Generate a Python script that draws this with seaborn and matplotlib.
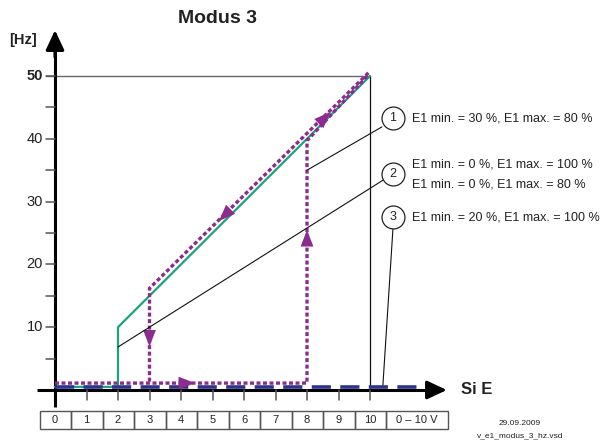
import numpy as np
import pandas as pd
import matplotlib
matplotlib.use("Agg")
import matplotlib.pyplot as plt
import seaborn as sns
from matplotlib.patches import Rectangle

# ---- data ----
green_x = [0, 2, 2, 10]
green_y = [0.5, 0.5, 10, 50]

purple_up_x = [0, 8, 8, 9.95]
purple_up_y = [1.1, 1.1, 39.7, 50.2]
purple_down_x = [9.95, 3, 3]
purple_down_y = [50.5, 16.2, 1.1]

blue_x = [0, 11.5]
blue_y = [0.5, 0.5]

# leader lines from the numbered circles to the curves
leader1_x, leader1_y = [10.38, 8.0], [41.9, 35.0]
leader2_x, leader2_y = [10.41, 2.0], [33.4, 6.85]
leader3_x, leader3_y = [10.73, 10.41], [25.8, 0.8]

y_major = [10, 20, 30, 40, 50]
y_minor = [5, 15, 25, 35, 45]
x_ticks = list(range(1, 11))
cell_labels = [str(i) for i in range(11)]
last_cell = "0 – 10 V"

notes = [
    ("1", 43.3, ["E1 min. = 30 %, E1 max. = 80 %"]),
    ("2", 34.4, ["E1 min. = 0 %, E1 max. = 100 %", "E1 min. = 0 %, E1 max. = 80 %"]),
    ("3", 27.5, ["E1 min. = 20 %, E1 max. = 100 %"]),
]

# purple direction arrows: (tip, tail)
purple_arrows = [
    ((8.0, 25.5), (8.0, 22.0)),
    ((3.0, 6.9), (3.0, 10.4)),
    ((4.45, 1.1), (3.75, 1.1)),
    ((8.75, 44.3), (8.35, 42.3)),
    ((5.2, 26.9), (5.6, 28.9)),
]

GREEN = "#1ba37c"
PURPLE = "#8b2c8f"
BLUE = "#2b3590"
GRAY = "#555555"
TXT = "#222222"

sns.set_theme(style="white")
plt.rcParams["font.family"] = ["Liberation Sans", "DejaVu Sans"]

fig = plt.figure(figsize=(6.12, 4.41), dpi=100)
ax = fig.add_axes([0, 0, 1, 1])
ax.set_xlim(-55 / 31.5, (612 - 55) / 31.5)
ax.set_ylim((390 - 441) / 6.28, 390 / 6.28)
ax.axis("off")

# reference lines
ax.plot([-0.3, 10], [50, 50], color="#666666", lw=1.0, zorder=1)
ax.plot([10, 10], [0, 50], color="#111111", lw=0.9, zorder=1)

# axes with arrows
ax.plot([0, 0], [-2.7, 55], color="black", lw=2.2, zorder=2, solid_capstyle="butt")
ax.annotate("", xy=(0, 57.3), xytext=(0, 53),
            arrowprops=dict(arrowstyle="-|>,head_length=0.6,head_width=0.28",
                            color="black", lw=2.2, mutation_scale=20, shrinkA=0, shrinkB=0))
ax.plot([-0.57, 12.0], [0, 0], color="black", lw=2.2, zorder=2, solid_capstyle="butt")
ax.annotate("", xy=(12.44, 0), xytext=(11.8, 0),
            arrowprops=dict(arrowstyle="-|>,head_length=0.6,head_width=0.28",
                            color="black", lw=2.2, mutation_scale=20, shrinkA=0, shrinkB=0))

# ticks
for v in y_major + y_minor:
    ax.plot([-0.29, 0], [v, v], color=GRAY, lw=1.1, zorder=2)
for v in y_major:
    ax.text(-0.38, v, str(v), ha="right", va="center", fontsize=10.5, color=TXT,
            fontweight="bold" if v == 50 else "normal")
for v in x_ticks:
    ax.plot([v, v], [0, -1.6], color=GRAY, lw=1.1, zorder=2)

# curves
sns.lineplot(x=green_x, y=green_y, sort=False, estimator=None, ax=ax,
             color=GREEN, lw=1.6, zorder=3)
sns.lineplot(x=blue_x, y=blue_y, sort=False, estimator=None, ax=ax,
             color=BLUE, lw=2.6, linestyle=(0, (5.3, 2.6)), zorder=4)
sns.lineplot(x=purple_up_x, y=purple_up_y, sort=False, estimator=None, ax=ax,
             color=PURPLE, lw=2.4, linestyle=(0, (1.2, 0.75)), zorder=5)
sns.lineplot(x=purple_down_x, y=purple_down_y, sort=False, estimator=None, ax=ax,
             color=PURPLE, lw=2.4, linestyle=(0, (1.2, 0.75)), zorder=5)
for tip, tail in purple_arrows:
    ax.annotate("", xy=tip, xytext=tail,
                arrowprops=dict(arrowstyle="-|>,head_length=0.6,head_width=0.23",
                                color=PURPLE, lw=0, mutation_scale=20,
                                shrinkA=0, shrinkB=0), zorder=6)

# leader lines
for lx, ly in [(leader1_x, leader1_y), (leader2_x, leader2_y), (leader3_x, leader3_y)]:
    ax.plot(lx, ly, color="#111111", lw=0.8, zorder=6)

# numbered circles with notes
for num, yy, lines in notes:
    ax.plot([10.73], [yy], marker="o", ms=16.5, mfc="white", mec="#222222", mew=0.9, zorder=7)
    ax.text(10.73, yy, num, ha="center", va="center", fontsize=9, color=TXT, zorder=8)
    if len(lines) == 1:
        ax.text(11.33, yy, lines[0], ha="left", va="center", fontsize=9, color=TXT)
    else:
        ax.text(11.33, yy + 1.45, lines[0], ha="left", va="center", fontsize=9, color=TXT)
        ax.text(11.33, yy - 1.75, lines[1], ha="left", va="center", fontsize=9, color=TXT)

# voltage table under the axis
cy0, cy1 = -6.2, -3.34
for i, lab in enumerate(cell_labels):
    ax.add_patch(Rectangle((i - 0.48, cy0), 0.99, cy1 - cy0, fill=False, ec=GRAY, lw=1.0))
    ax.text(i, (cy0 + cy1) / 2, lab, ha="center", va="center", fontsize=8, color=TXT)
ax.add_patch(Rectangle((10.5, cy0), 1.98, cy1 - cy0, fill=False, ec=GRAY, lw=1.0))
ax.text(11.5, (cy0 + cy1) / 2, last_cell, ha="center", va="center", fontsize=8, color=TXT)

# labels
ax.text(5.17, 59.1, "Modus 3", ha="center", va="center", fontsize=14, fontweight="bold", color=TXT)
ax.text(-1.02, 55.7, "[Hz]", ha="center", va="center", fontsize=10.5, fontweight="bold", color=TXT)
ax.text(12.9, 0, "Si E", ha="left", va="center", fontsize=12, fontweight="bold", color=TXT)
ax.text(14.76, -5.4, "29.09.2009", ha="center", va="center", fontsize=6, color=TXT)
ax.text(14.76, -7.3, "v_e1_modus_3_hz.vsd", ha="center", va="center", fontsize=6, color=TXT)

fig.savefig("out.png", dpi=100)
